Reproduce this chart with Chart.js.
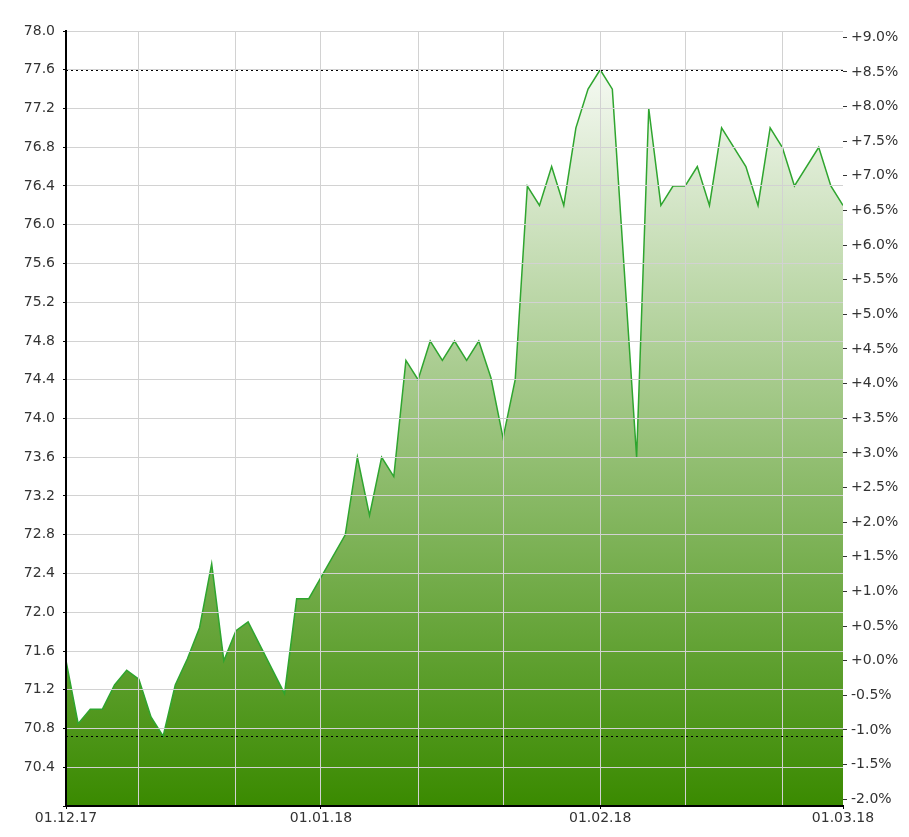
<!DOCTYPE html>
<html lang="en">
<head>
  <meta charset="UTF-8">
  <title>Price history</title>
  <script src="https://cdn.jsdelivr.net/npm/chart.js"></script>
  <style>
    html, body { margin: 0; padding: 0; background: #fff; }
    canvas { display: block; }
  </style>
</head>
<body>
<canvas id="priceChart" width="909" height="837"></canvas>
<script>
// x = trading day index counted from 01.12.17 (weekdays only)
const dayIndex = [0, 1, 2, 3, 4, 5, 6, 7, 8, 9, 10, 11, 12, 13, 14, 15, 18, 19, 20, 23,
  24, 25, 26, 27, 28, 29, 30, 31, 32, 33, 34, 35, 36, 37, 38, 39, 40, 41, 42, 43,
  44, 45, 47, 48, 49, 50, 51, 52, 53, 54, 56, 57, 58, 59, 60, 62, 63, 64];
const prices = [71.5, 70.85, 71.0, 71.0, 71.25, 71.4, 71.31, 70.92, 70.72, 71.25, 71.52, 71.84, 72.5, 71.5, 71.81, 71.9, 71.16, 72.14, 72.14, 72.8,
  73.6, 73.0, 73.6, 73.4, 74.6, 74.4, 74.8, 74.6, 74.8, 74.6, 74.8, 74.42, 73.8, 74.4, 76.4, 76.2, 76.6, 76.2, 77.0, 77.4,
  77.6, 77.4, 73.6, 77.2, 76.2, 76.4, 76.4, 76.6, 76.2, 77.0, 76.6, 76.2, 77.0, 76.8, 76.4, 76.8, 76.4, 76.2];

const priceTicks = [70.0, 70.4, 70.8, 71.2, 71.6, 72.0, 72.4, 72.8, 73.2, 73.6, 74.0,
  74.4, 74.8, 75.2, 75.6, 76.0, 76.4, 76.8, 77.2, 77.6, 78.0];
const pctTicks = [-2.0, -1.5, -1.0, -0.5, 0.0, 0.5, 1.0, 1.5, 2.0, 2.5, 3.0, 3.5,
  4.0, 4.5, 5.0, 5.5, 6.0, 6.5, 7.0, 7.5, 8.0, 8.5, 9.0];
const gridDays = [0, 6, 14, 21, 29, 36, 44, 51, 59, 64];
const labelDays = [0, 21, 44, 64];
const labelTexts = ['01.12.17', '01.01.18', '01.02.18', '01.03.18'];

const priceMin = 70.0;
const priceMax = 78.0;
const basePrice = prices[0];
const toPct = v => (v / basePrice - 1) * 100;

Chart.defaults.font.family = "'DejaVu Sans', sans-serif";
Chart.defaults.font.size = 14;
Chart.defaults.color = '#333';

const gridGray = '#d2d2d2';

const extremeLines = {
  id: 'extremeLines',
  afterDraw(chart) {
    const { ctx, chartArea, scales } = chart;
    const hi = Math.max(...prices);
    const lo = Math.min(...prices);
    ctx.save();
    ctx.strokeStyle = '#000';
    ctx.lineWidth = 1;
    ctx.setLineDash([2, 3]);
    [hi, lo].forEach(v => {
      const y = Math.round(scales.y.getPixelForValue(v)) + 0.5;
      ctx.beginPath();
      ctx.moveTo(chartArea.left, y);
      ctx.lineTo(chartArea.right, y);
      ctx.stroke();
    });
    ctx.restore();
  }
};

new Chart(document.getElementById('priceChart'), {
  type: 'line',
  data: {
    datasets: [{
      data: dayIndex.map((d, i) => ({ x: d, y: prices[i] })),
      borderColor: '#2fa52f',
      borderWidth: 1.5,
      pointRadius: 0,
      tension: 0,
      fill: 'start',
      backgroundColor: (c) => {
        const area = c.chart.chartArea;
        if (!area) return 'rgba(60,140,0,0.5)';
        const g = c.chart.ctx.createLinearGradient(0, area.top, 0, area.bottom);
        g.addColorStop(0, '#ffffff');
        g.addColorStop(1, '#3a8a00');
        return g;
      }
    }]
  },
  options: {
    responsive: false,
    animation: false,
    layout: { padding: { top: 31, left: 0, right: 0, bottom: 0 } },
    plugins: { legend: { display: false }, tooltip: { enabled: false } },
    scales: {
      x: {
        type: 'linear',
        min: 0,
        max: 64,
        afterBuildTicks: s => { s.ticks = gridDays.map(v => ({ value: v })); },
        afterFit: s => { s.height = 31; },
        ticks: {
          autoSkip: false,
          maxRotation: 0,
          padding: 1,
          callback: v => {
            const k = labelDays.indexOf(v);
            return k >= 0 ? labelTexts[k] : '';
          }
        },
        grid: {
          z: 1,
          color: c => (c.tick && c.tick.value === 64) ? 'rgba(0,0,0,0)' : gridGray,
          tickLength: 3,
          tickColor: c => (c.tick && labelDays.includes(c.tick.value)) ? '#000' : 'rgba(0,0,0,0)'
        },
        border: { z: 2, color: '#000', width: 2 }
      },
      y: {
        position: 'left',
        min: priceMin,
        max: priceMax,
        afterBuildTicks: s => { s.ticks = priceTicks.map(v => ({ value: v })); },
        afterFit: s => { s.width = 66; },
        ticks: {
          padding: 8,
          callback: v => v === priceMin ? '' : v.toFixed(1)
        },
        grid: { z: 1, color: gridGray, tickLength: 3, tickColor: '#000' },
        border: { z: 2, color: '#000', width: 2 }
      },
      pct: {
        position: 'right',
        min: toPct(priceMin),
        max: toPct(priceMax),
        afterBuildTicks: s => { s.ticks = pctTicks.map(v => ({ value: v })); },
        afterFit: s => { s.width = 66; },
        ticks: {
          padding: 4,
          callback: v => (v >= 0 ? '+' : '') + v.toFixed(1) + '%'
        },
        grid: { drawOnChartArea: false, tickLength: 4, tickColor: '#333' },
        border: { display: false }
      }
    }
  },
  plugins: [extremeLines]
});
</script>
</body>
</html>
